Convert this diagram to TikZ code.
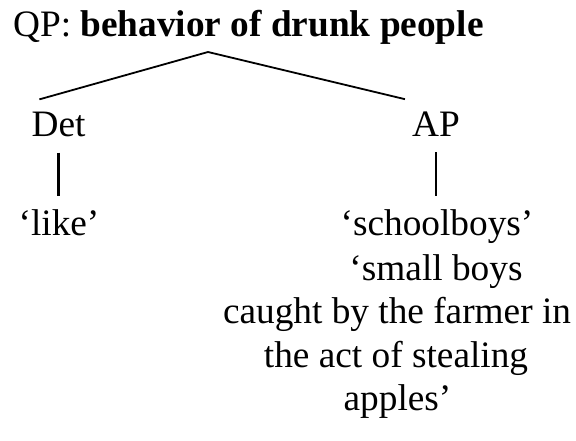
\documentclass[tikz,border=0pt]{standalone}
\usepackage{fontspec}
\setmainfont{Liberation Serif}
\begin{document}
\begin{tikzpicture}[x=1pt,y=1pt,
    word/.style={inner sep=0pt, anchor=base, font=\fontsize{37.3}{42.9}\selectfont},
    branch/.style={line width=1.8pt},
    stem/.style={line width=2.6pt}]
  %tree for the QP
    \useasboundingbox (0,0) rectangle (576,-441);
    \node[word, anchor=base west] (qp) at (13,-37) {QP: \textbf{behavior of drunk people}};
    \coordinate (top) at (208,-52);
    \node[word] (det) at (58.5,-137) {Det};
    \node[word] (ap) at (436,-137) {AP};
    \node[word] (like) at (59,-236) {‘like’};
    \node[word] (school) at (437,-236) {‘schoolboys’};
    \node[word] (small) at (436,-280) {‘small boys};
    \node[word] (caught) at (397,-323.5) {caught by the farmer in};
    \node[word] (act) at (396,-367) {the act of stealing};
    \node[word] (apples) at (397.5,-410.5) {apples’};
    \draw[branch] ([xshift=8pt,yshift=13pt]det.north west) -- (top) -- ([xshift=-7pt,yshift=13pt]ap.north west);
    \draw[stem] ([yshift=-15pt]det.south) -- ([yshift=14pt]det.south |- like.north);
    \draw[stem] ([yshift=-15pt]ap.south) -- ([yshift=14pt]ap.south |- school.north);
  \end{tikzpicture}
\end{document}
